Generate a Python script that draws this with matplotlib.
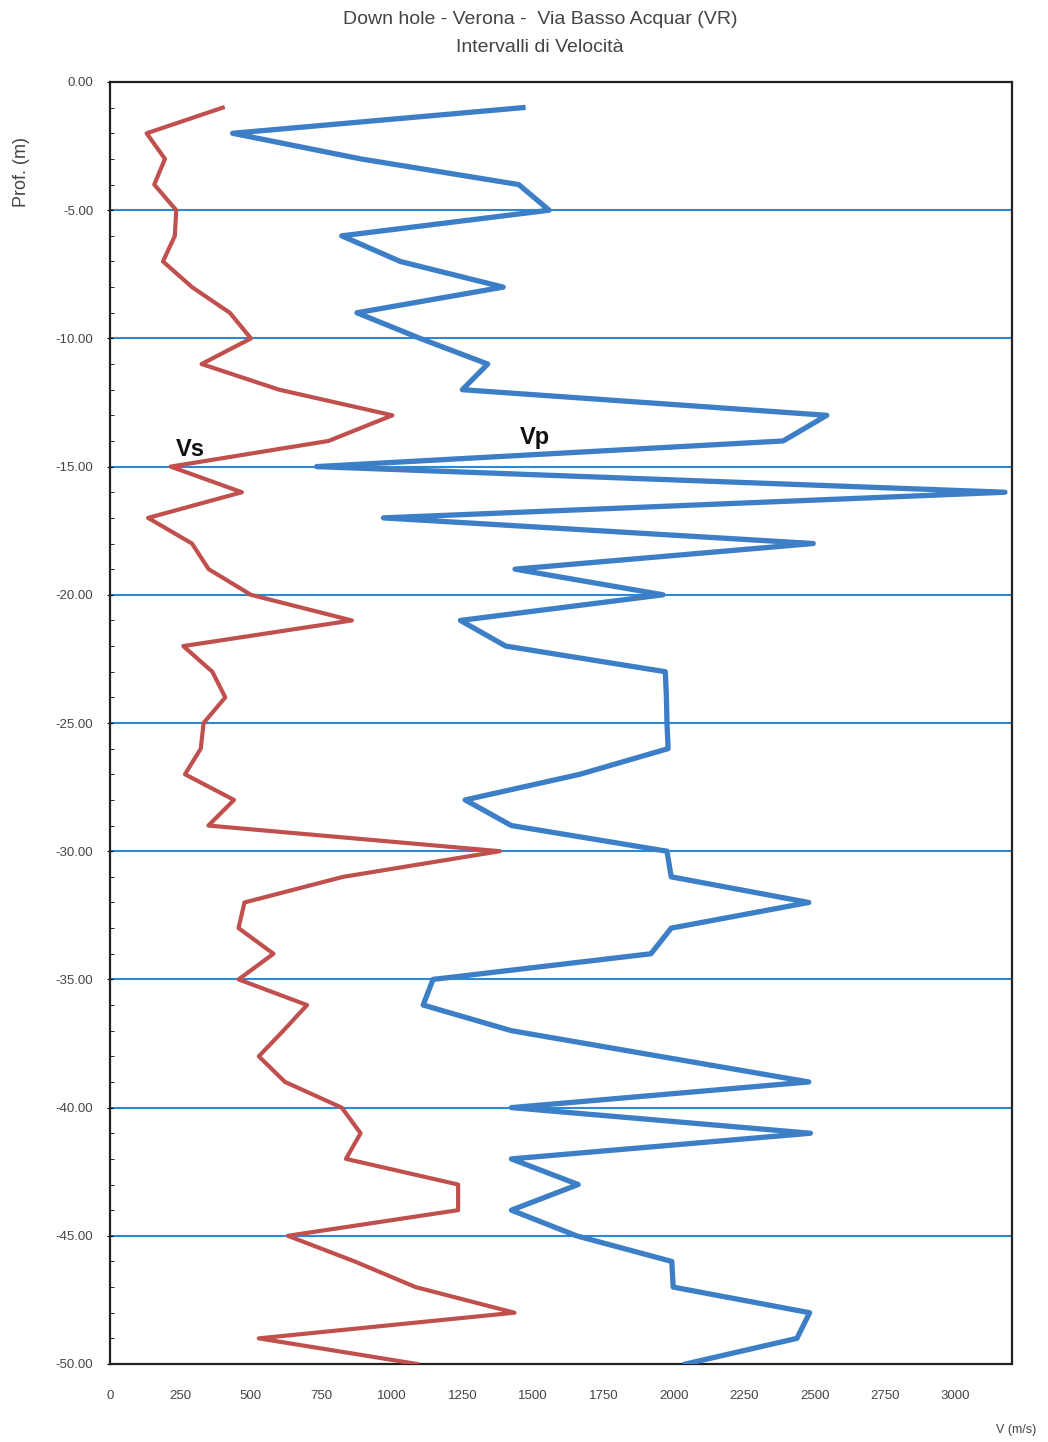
import numpy as np
import matplotlib
matplotlib.use("Agg")
import matplotlib.pyplot as plt
from matplotlib.ticker import MultipleLocator, FormatStrFormatter

plt.rcParams['font.family'] = ['Liberation Sans', 'DejaVu Sans']

# depth of each reading (m, negative downwards)
depth = -np.arange(1, 51)

# shear wave velocity Vs (m/s)
vs = [400, 130, 195, 157, 235, 230, 188, 291, 425, 500,
      325, 600, 1002, 775, 215, 468, 135, 291, 350, 500,
      858, 260, 363, 409, 332, 322, 266, 440, 349, 1383,
      827, 477, 456, 580, 456, 699, 615, 528, 621, 822,
      889, 837, 1235, 1235, 631, 868, 1084, 1435, 528, 1090]

# compressional wave velocity Vp (m/s)
vp = [1465, 435, 890, 1450, 1558, 822, 1030, 1395, 876, 1100,
      1340, 1250, 2543, 2388, 733, 3175, 970, 2495, 1437, 1962,
      1243, 1404, 1970, 1974, 1976, 1980, 1667, 1260, 1424, 1976,
      1991, 2479, 1991, 1919, 1146, 1111, 1424, 1950, 2479, 1424,
      2485, 1424, 1661, 1424, 1655, 1993, 1998, 2482, 2437, 2042]

title1 = "Down hole - Verona -  Via Basso Acquar (VR)"
title2 = "Intervalli di Velocità"

fig = plt.figure(figsize=(10.48, 14.42), dpi=100)
ax = fig.add_axes([110/1048, 1-1364/1442, (1012-110)/1048, (1364-82)/1442])

for y in range(-45, 0, 5):
    ax.axhline(y, color="#2a8ad6", lw=1.5, zorder=1)

ax.plot(vs, depth, color="#c0504d", lw=3.0, zorder=3)
ax.plot(vp, depth, color="#3d7fc6", lw=3.8, zorder=3)

ax.text(284, -14.35, "Vs", fontsize=17, fontweight="bold", color="#111111",
        ha="center", va="center", zorder=4)
ax.text(1509, -13.85, "Vp", fontsize=17, fontweight="bold", color="#111111",
        ha="center", va="center", zorder=4)

ax.set_xlim(0, 3200)
ax.set_ylim(-50, 0)
ax.set_xticks(np.arange(0, 3001, 250))
ax.xaxis.set_major_formatter(FormatStrFormatter("%d"))
ax.yaxis.set_major_locator(MultipleLocator(5))
ax.yaxis.set_minor_locator(MultipleLocator(1))
ax.yaxis.set_major_formatter(FormatStrFormatter("%.2f"))

ax.tick_params(axis="x", length=0, pad=19, labelsize=9.5, labelcolor="#444444")
ax.tick_params(axis="y", which="major", length=4, direction="inout", pad=10,
               labelsize=9.5, labelcolor="#444444")
ax.tick_params(axis="y", which="minor", length=3, direction="in")

for s in ax.spines.values():
    s.set_linewidth(1.6)
    s.set_color("#222222")

fig.text(540/1048, 1-20/1442, title1, ha="center", va="center",
         fontsize=14, color="#444444")
fig.text(540/1048, 1-48/1442, title2, ha="center", va="center",
         fontsize=14, color="#444444")
fig.text(22/1048, 1-172/1442, "Prof. (m)", rotation=90, ha="center",
         va="center", fontsize=13, color="#444444")
fig.text(1016/1048, 1-1430/1442, "V (m/s)", ha="center", va="center",
         fontsize=9, color="#444444")

fig.savefig("out.png", dpi=100, facecolor="white")
